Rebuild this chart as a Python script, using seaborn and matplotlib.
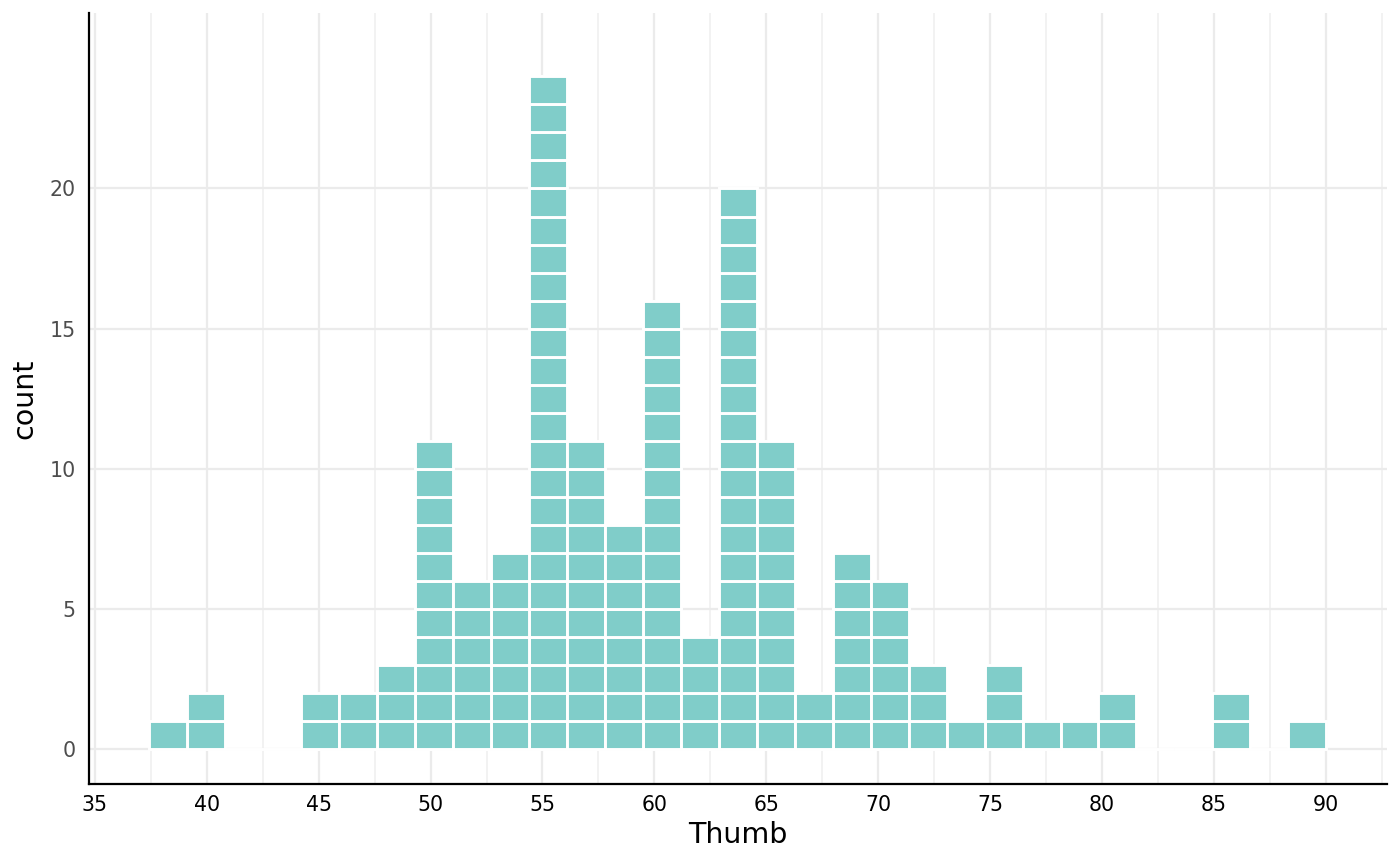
import numpy as np
import pandas as pd
import matplotlib
matplotlib.use("Agg")
import matplotlib.pyplot as plt
import seaborn as sns

# bin counts (31 bins, width ~1.7)
bin_start = 37.42
bin_end = 90.03
counts = [1, 2, 0, 0, 2, 2, 3, 11, 6, 7, 24, 11, 8, 16, 4, 20,
          11, 2, 7, 6, 3, 1, 3, 1, 1, 2, 0, 0, 2, 0, 1]

x_ticks = [35, 40, 45, 50, 55, 60, 65, 70, 75, 80, 85, 90]
y_ticks = [0, 5, 10, 15, 20]

FILL = "#80CDC9"

edges = np.linspace(bin_start, bin_end, len(counts) + 1)
centers = (edges[:-1] + edges[1:]) / 2

# one row per observation, with its position in the stack of its bin
rows = []
for c, n in zip(centers, counts):
    for k in range(n):
        rows.append({"Thumb": c, "unit": k})
df = pd.DataFrame(rows)
n_units = df["unit"].nunique()

sns.set_style("white")
plt.rcParams["font.family"] = ["DejaVu Sans"]

fig, ax = plt.subplots(figsize=(14, 8.66), dpi=100)
fig.subplots_adjust(left=0.0639, right=0.9907, bottom=0.0947, top=0.9846)

sns.histplot(data=df, x="Thumb", hue="unit", multiple="stack", bins=edges,
             palette=[FILL] * n_units, alpha=1, edgecolor="white",
             linewidth=2.1, legend=False, ax=ax)

ax.set_xlim(34.754, 92.74)
ax.set_ylim(-1.25, 26.25)
ax.set_xticks(x_ticks)
ax.set_xticks(np.arange(37.5, 93, 5), minor=True)
ax.set_yticks(y_ticks)

ax.set_axisbelow(True)
ax.grid(True, which="major", color="#EBEBEB", linewidth=1.6)
ax.grid(True, axis="x", which="minor", color="#F0F0F0", linewidth=1.2)

for s in ["top", "right"]:
    ax.spines[s].set_visible(False)
for s in ["left", "bottom"]:
    ax.spines[s].set_color("black")
    ax.spines[s].set_linewidth(1.6)

ax.tick_params(axis="both", which="both", length=0)
ax.tick_params(axis="x", labelsize=14.8, labelcolor="black", pad=8)
ax.tick_params(axis="y", labelsize=14.8, labelcolor="#4D4D4D", pad=10)

ax.set_xlabel("Thumb", fontsize=20.5, color="black", labelpad=4)
ax.set_ylabel("count", fontsize=20.5, color="black", labelpad=8)

fig.savefig("out.png", dpi=100)
